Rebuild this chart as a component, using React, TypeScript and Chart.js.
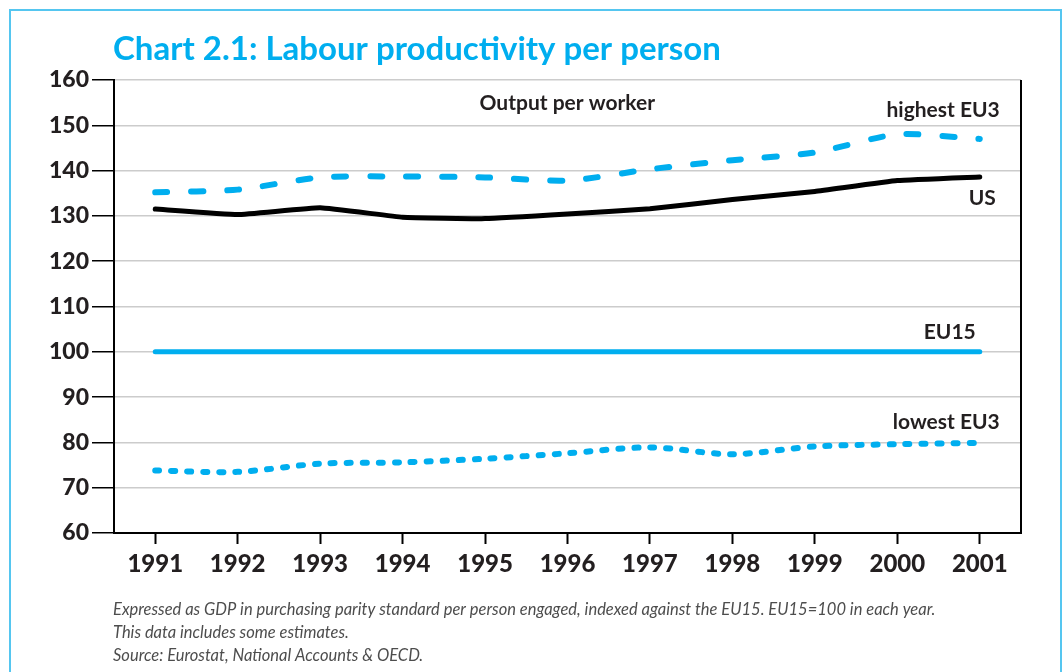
import React, { useEffect, useRef } from "react";
import { Chart, registerables } from "chart.js";

Chart.register(...registerables);

const years = ["1991", "1992", "1993", "1994", "1995", "1996", "1997", "1998", "1999", "2000", "2001"];
const highestEU3 = [135.2, 135.8, 138.5, 138.7, 138.5, 137.8, 140.3, 142.3, 144.0, 148.0, 147.0];
const us = [131.5, 130.3, 131.8, 129.7, 129.4, 130.4, 131.6, 133.6, 135.4, 137.8, 138.6];
const eu15 = [100, 100, 100, 100, 100, 100, 100, 100, 100, 100, 100];
const lowestEU3 = [73.8, 73.5, 75.3, 75.6, 76.4, 77.6, 78.9, 77.4, 79.1, 79.6, 79.9];
const yTicks = [60, 70, 80, 90, 100, 110, 120, 130, 140, 150, 160];

const titleText = "Chart 2.1: Labour productivity per person";
const subtitleText = "Output per worker";
const seriesLabels = ["highest EU3", "US", "EU15", "lowest EU3"];
const footnotes = [
  "Expressed as GDP in purchasing parity standard per person engaged, indexed against the EU15. EU15=100 in each year.",
  "This data includes some estimates.",
  "Source: Eurostat, National Accounts & OECD.",
];

const CYAN = "#00aeef";
const TEXT = "#231f20";
const FONT = "Lato, 'Noto Sans', sans-serif";

const decorPlugin = {
  id: "decor",
  beforeDraw(chart: any) {
    const { ctx, width } = chart;
    ctx.save();
    ctx.fillStyle = "#ffffff";
    ctx.fillRect(0, 0, width, chart.height);
    ctx.restore();
  },
  afterDraw(chart: any) {
    const { ctx, chartArea } = chart;
    const xs = chart.scales.x;
    const ys = chart.scales.y;
    ctx.save();
    // outer frame
    ctx.strokeStyle = "#55c6f0";
    ctx.lineWidth = 2;
    ctx.strokeRect(10, 10, 1051, 700);
    // right plot border
    ctx.strokeStyle = "#000";
    ctx.lineWidth = 2;
    ctx.beginPath();
    ctx.moveTo(chartArea.right, chartArea.top);
    ctx.lineTo(chartArea.right, chartArea.bottom);
    ctx.stroke();
    // title
    ctx.fillStyle = CYAN;
    ctx.font = `bold 33px ${FONT}`;
    ctx.textAlign = "left";
    ctx.textBaseline = "alphabetic";
    ctx.fillText(titleText, chartArea.left - 1, 60);
    // subtitle inside plot
    ctx.fillStyle = TEXT;
    ctx.font = `bold 21px ${FONT}`;
    ctx.textAlign = "center";
    ctx.textBaseline = "middle";
    ctx.fillText(subtitleText, (xs.getPixelForValue(5) + xs.getPixelForValue(4)) / 2 + 41, ys.getPixelForValue(154.8));
    // series labels
    ctx.font = `bold 21px ${FONT}`;
    ctx.textAlign = "right";
    const lastX = xs.getPixelForValue(years.length - 1);
    ctx.fillText(seriesLabels[0], lastX + 20, ys.getPixelForValue(153.3));
    ctx.fillText(seriesLabels[1], lastX + 16, ys.getPixelForValue(134.0));
    ctx.fillText(seriesLabels[2], lastX - 4, ys.getPixelForValue(104.4));
    ctx.fillText(seriesLabels[3], lastX + 20, ys.getPixelForValue(84.4));
    // footnotes
    ctx.fillStyle = "#4d4d4d";
    ctx.font = `italic 400 16.5px ${FONT}`;
    ctx.textAlign = "left";
    footnotes.forEach((t, i) => ctx.fillText(t, chartArea.left - 1, 610 + i * 23));
    ctx.restore();
  },
};

export default function App() {
  const ref = useRef<HTMLCanvasElement | null>(null);
  useEffect(() => {
    if (!ref.current) return;
    const chart = new Chart(ref.current, {
      type: "line",
      data: {
        labels: years,
        datasets: [
          {
            label: seriesLabels[0],
            data: highestEU3,
            borderColor: CYAN,
            borderWidth: 6,
            borderDash: [12, 24],
            borderCapStyle: "round",
            borderJoinStyle: "round",
            tension: 0.25,
            pointRadius: 0,
          },
          {
            label: seriesLabels[1],
            data: us,
            borderColor: "#000000",
            borderWidth: 5,
            borderCapStyle: "round",
            tension: 0.1,
            pointRadius: 0,
          },
          {
            label: seriesLabels[2],
            data: eu15,
            borderColor: CYAN,
            borderWidth: 5,
            borderCapStyle: "round",
            pointRadius: 0,
          },
          {
            label: seriesLabels[3],
            data: lowestEU3,
            borderColor: CYAN,
            borderWidth: 6,
            borderDash: [4, 12],
            borderCapStyle: "round",
            tension: 0.3,
            pointRadius: 0,
          },
        ],
      },
      options: {
        animation: false,
        responsive: false,
        maintainAspectRatio: false,
        layout: { padding: { top: 80, right: 43, left: 0, bottom: 0 } },
        plugins: { legend: { display: false }, tooltip: { enabled: false }, title: { display: false } },
        scales: {
          x: {
            type: "category",
            offset: true,
            grid: {
              drawOnChartArea: false,
              drawTicks: true,
              tickLength: 11,
              tickColor: "#000",
              tickWidth: 2,
              offset: false,
            },
            border: { color: "#000", width: 2 },
            ticks: {
              color: TEXT,
              font: { family: FONT, weight: "900", size: 24 },
              padding: 6,
              maxRotation: 0,
              autoSkip: false,
            },
            afterFit(scale: any) {
              scale.height = 139;
            },
          },
          y: {
            min: 60,
            max: 160,
            afterBuildTicks(scale: any) {
              scale.ticks = yTicks.map((v) => ({ value: v }));
            },
            grid: {
              color: "#cccccc",
              lineWidth: 1.5,
              tickLength: 22,
              tickColor: "#000",
              tickWidth: 1.5,
            },
            border: { color: "#000", width: 2 },
            ticks: {
              color: TEXT,
              font: { family: FONT, weight: "900", size: 23 },
              padding: 3,
            },
            afterFit(scale: any) {
              scale.width = 114;
            },
          },
        },
      },
      plugins: [decorPlugin],
    } as any);
    return () => chart.destroy();
  }, []);
  return (
    <div style={{ position: "absolute", left: 0, top: 0, width: 1064, height: 672 }}>
      <canvas ref={ref} width={1064} height={672} style={{ width: 1064, height: 672, display: "block" }} />
    </div>
  );
}
